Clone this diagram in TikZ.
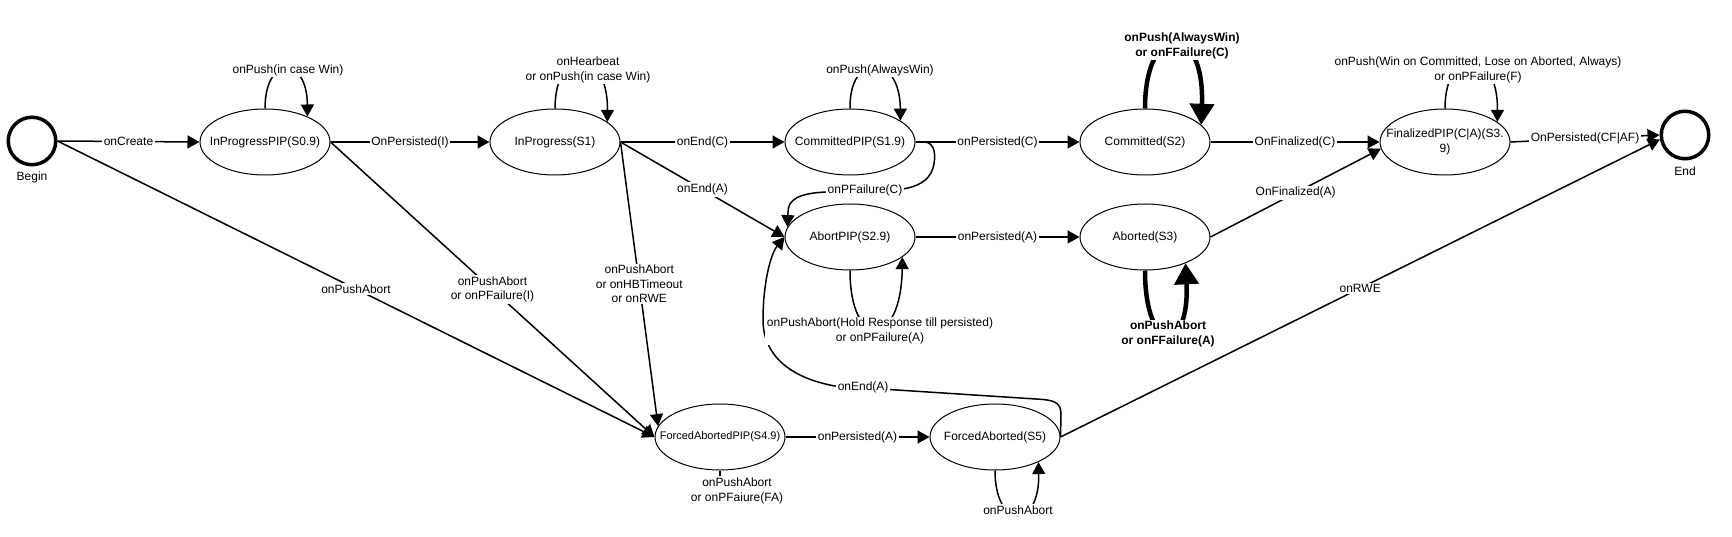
\documentclass[tikz,border=0pt]{standalone}
\usepackage{fontspec}
\setmainfont{Liberation Sans}
\usetikzlibrary{arrows.meta,shapes.geometric}
\newcommand{\lblfont}{\fontsize{12}{14.5}\selectfont}
\begin{document}
\begin{tikzpicture}[x=1pt,y=-1pt,
  stbox/.style={ellipse, draw, line width=1pt, fill=white, minimum width=130pt, minimum height=66pt, inner sep=0pt, font=\lblfont},
  term/.style={circle, draw, line width=3.5pt, minimum size=47.5pt, inner sep=0pt},
  conn/.style={line width=1.5pt, -{Triangle[length=12pt,width=13pt]}},
  bigconn/.style={line width=4.5pt, -{Triangle[length=21pt,width=24pt]}},
  lbl/.style={fill=white, inner sep=1.5pt, align=center, font=\lblfont},
  blbl/.style={lbl, font=\lblfont\bfseries},
]
\useasboundingbox (0,0) rectangle (1732,537);

% states
\node[term] (Begin) at (32,141) {};
\node[lbl] (BeginL) at (32,177) {Begin};
\node[term] (End) at (1685,135) {};
\node[lbl] (EndL) at (1685,171) {End};
\node[stbox] (IPP) at (265,142) {\makebox[0pt]{InProgressPIP(S0.9)}};
\node[stbox] (IP) at (555,142) {\makebox[0pt]{InProgress(S1)}};
\node[stbox] (CP) at (850,142) {\makebox[0pt]{CommittedPIP(S1.9)}};
\node[stbox] (C) at (1145,142) {\makebox[0pt]{Committed(S2)}};
\node[stbox] (FP) at (1445,142) {\makebox[0pt]{\shortstack{FinalizedPIP(C|A)(S3.\\9)}}};
\node[stbox] (AP) at (850,237) {\makebox[0pt]{AbortPIP(S2.9)}};
\node[stbox] (A) at (1145,237) {\makebox[0pt]{Aborted(S3)}};
\node[stbox, font=\fontsize{11}{13}\selectfont] (FAP) at (720,437) {\makebox[0pt]{ForcedAbortedPIP(S4.9)}};
\node[stbox] (FA) at (995,437) {\makebox[0pt]{ForcedAborted(S5)}};

% straight transitions
\draw[conn] (Begin.east) -- node[lbl]{onCreate} (IPP.west);
\draw[conn] (IPP.east) -- node[lbl]{OnPersisted(I)} (IP.west);
\draw[conn] (IP.east) -- node[lbl]{onEnd(C)} (CP.west);
\draw[conn] (CP.east) -- node[lbl]{onPersisted(C)} (C.west);
\draw[conn] (C.east) -- node[lbl]{OnFinalized(C)} (FP.west);
\draw[conn] (FP.east) -- node[lbl]{OnPersisted(CF|AF)} (End.west);
\draw[conn] (IP.east) -- node[lbl]{onEnd(A)} (AP.west);
\draw[conn] (AP.east) -- node[lbl]{onPersisted(A)} (A.west);
\draw[conn] (A.east) -- node[lbl]{OnFinalized(A)} (FP.186);
\draw[conn] (FAP.east) -- node[lbl]{onPersisted(A)} (FA.west);
\draw[conn] (FA.east) -- node[lbl]{onRWE} (End.190);
\draw[conn] (Begin.east) -- node[lbl]{onPushAbort} (FAP.west);
\draw[conn] (IPP.east) -- node[lbl]{onPushAbort\\or onPFailure(I)} (FAP.west);
\draw[conn] (IP.east) -- node[lbl]{onPushAbort\\or onHBTimeout\\or onRWE} (FAP.170);

% curved transitions
\draw[conn] (CP.east) -- (924,142) .. controls (936,142) and (936,158) .. (933,168)
  .. controls (929,182) and (915,187) .. (903,189)
  -- node[lbl]{onPFailure(C)} (827,192)
  .. controls (798,193) and (788,200) .. (788,212) -- (AP.171);
\draw[conn] (FA.east) -- (1061,414) .. controls (1061,401) and (1052,400) .. (1036,399)
  -- node[lbl,pos=0.86]{onEnd(A)} (835,386)
  .. controls (790,378) and (763,355) .. (763,320)
  .. controls (763,285) and (770,255) .. (AP.west);

% self loops
\draw[conn] (IPP.north) .. controls (265,55) and (307,55) .. (IPP.31);
\draw[conn] (IP.north) .. controls (555,45) and (608,45) .. (IP.21);
\draw[conn] (CP.north) .. controls (849,52) and (900,52) .. (CP.23);
\draw[bigconn] (C.north) .. controls (1145,20) and (1205,20) .. (C.17);
\draw[conn] (FP.north) .. controls (1445,45) and (1498,45) .. (FP.21);
\draw[conn] (AP.south) .. controls (850,350) and (901,350) .. (AP.-21);
\draw[bigconn] (A.south) .. controls (1145,355) and (1190,355) .. (A.-33);
\draw[conn] (FA.south) .. controls (995,530) and (1040,530) .. (FA.-30);

\node[lbl] (L1) at (288,70) {onPush(in case Win)};
\node[lbl] (L2) at (588,70) {onHearbeat\\or onPush(in case Win)};
\node[lbl] (L3) at (880,70) {onPush(AlwaysWin)};
\node[blbl] (L4) at (1182,46) {onPush(AlwaysWin)\\or onFFailure(C)};
\node[lbl] (L5) at (1478,70) {onPush(Win on Committed, Lose on Aborted, Always)\\or onPFailure(F)};
\node[lbl] (L6) at (880,331) {onPushAbort(Hold Response till persisted)\\or onPFailure(A)};
\node[blbl] (L7) at (1168,334) {onPushAbort\\or onFFailure(A)};
\node[lbl] (L8) at (1018,510) {onPushAbort};
\node[lbl] (L9) at (737,491) {onPushAbort\\or onPFaiure(FA)};
\draw[line width=1.5pt] (FAP.south) -- (FAP.south |- L9.north);
\end{tikzpicture}
\end{document}
